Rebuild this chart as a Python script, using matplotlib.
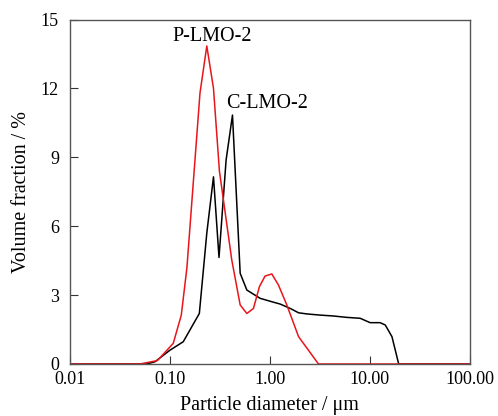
import numpy as np
import matplotlib.pyplot as plt
from matplotlib.ticker import FixedLocator, FixedFormatter, NullLocator

plt.rcParams['font.family'] = ['Liberation Serif', 'DejaVu Serif']

# P-LMO-2 (red)
p_d = [0.01, 0.05, 0.075, 0.108, 0.13, 0.148, 0.2, 0.234, 0.273, 0.313, 0.416, 0.505,
       0.589, 0.686, 0.787, 0.897, 1.047, 1.22, 1.48, 1.94, 3.07, 100]
p_v = [0, 0, 0.15, 0.9, 2.13, 4.2, 11.8, 13.85, 12.0, 8.4, 4.53, 2.57,
       2.2, 2.42, 3.37, 3.83, 3.92, 3.44, 2.57, 1.19, 0, 0]

# C-LMO-2 (black)
c_d = [0.01, 0.0586, 0.071, 0.1, 0.136, 0.197, 0.234, 0.273, 0.31, 0.365, 0.423, 0.505,
       0.589, 0.8, 1.05, 1.27, 1.6, 1.94, 2.35, 3.19, 4.35, 5.9, 8.03, 10.1, 12.7,
       14.3, 16.7, 19.5, 100]
c_v = [0, 0, 0.1, 0.6, 0.97, 2.2, 5.7, 8.15, 4.64, 8.88, 10.84, 3.95,
       3.22, 2.86, 2.71, 2.61, 2.42, 2.23, 2.18, 2.13, 2.09, 2.03, 1.99, 1.8, 1.8,
       1.7, 1.19, 0, 0]

xticks = [0.01, 0.1, 1, 10, 100]
xlabels = ['0.01', '0.10', '1.00', '10.00', '100.00']
yticks = [0, 3, 6, 9, 12, 15]

fig = plt.figure(figsize=(4.98, 4.16), dpi=100)
ax = fig.add_axes([0.1406, 0.125, 0.8024, 0.828])

ax.plot(c_d, c_v, color='black', linewidth=1.1)
ax.plot(p_d, p_v, color='#e8151b', linewidth=1.1)

ax.set_xscale('log')
ax.set_xlim(0.01, 100)
ax.set_ylim(0, 15)
ax.xaxis.set_major_locator(FixedLocator(xticks))
ax.xaxis.set_major_formatter(FixedFormatter(xlabels))
ax.xaxis.set_minor_locator(NullLocator())
ax.set_yticks(yticks)
ax.tick_params(direction='in', labelsize=13, length=6, color='#333333')
ax.tick_params(axis='y', pad=8)
ax.tick_params(axis='x', pad=5)

for s in ax.spines.values():
    s.set_color('#555555')
    s.set_linewidth(1.0)

ax.text(0.263, 14.28, 'P-LMO-2', fontsize=14.5, ha='center', va='center')
ax.text(0.948, 11.35, 'C-LMO-2', fontsize=14.5, ha='center', va='center')

ax.set_xlabel('Particle diameter / μm', fontsize=14.5, labelpad=6)
ax.set_ylabel('Volume fraction / %', fontsize=14.5, labelpad=7)

fig.savefig('out.png', dpi=100)
